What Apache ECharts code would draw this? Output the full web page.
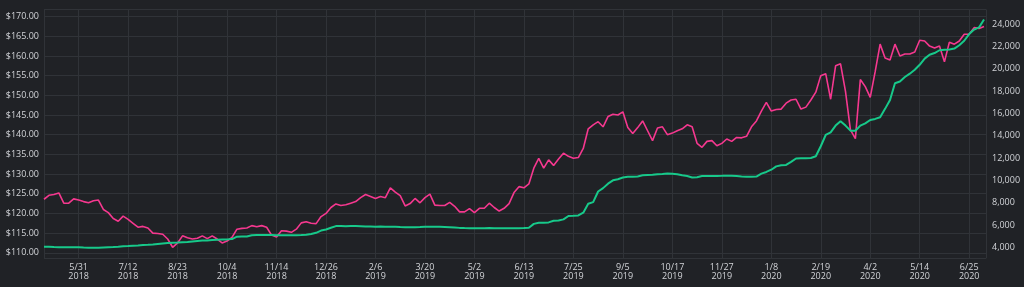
<!DOCTYPE html>
<html>
<head>
<meta charset="utf-8">
<script src="https://cdn.jsdelivr.net/npm/echarts@6/dist/echarts.min.js"></script>
<style>
html,body{margin:0;padding:0;background:#202226;}
#chart{width:1024px;height:287px;}
</style>
</head>
<body>
<div id="chart"></div>
<script>
// x tick labels, one every 10 sample slots (slot 0 = 5/31/2018)
const tickLabels = ['5/31\n2018','7/12\n2018','8/23\n2018','10/4\n2018','11/14\n2018','12/26\n2018',
  '2/6\n2019','3/20\n2019','5/2\n2019','6/13\n2019','7/25\n2019','9/5\n2019','10/17\n2019','11/27\n2019',
  '1/8\n2020','2/19\n2020','4/2\n2020','5/14\n2020','6/25\n2020'];
const slotStart = -7;      // first sample slot
const slotsPerTick = 10;

// price (left axis, $)
const price = [
  123.6,124.6,124.8,125.2,122.6,122.6,123.7,123.4,123.0,122.7,
  123.2,123.4,121.0,120.2,118.7,118.0,119.3,118.5,117.5,116.5,
  116.7,116.3,115.0,114.9,114.7,113.5,111.4,112.5,114.3,113.8,
  113.5,113.7,114.3,113.6,114.3,113.5,112.5,113.0,113.9,116.0,
  116.2,116.3,116.9,116.6,116.9,116.5,114.5,114.0,115.6,115.5,
  115.2,116.0,117.6,117.9,117.5,117.4,119.2,120.0,121.5,122.4,
  122.0,122.2,122.6,123.0,124.0,124.8,124.3,123.8,124.3,124.0,
  126.5,125.4,124.5,121.9,122.5,123.8,122.7,124.0,124.9,122.1,
  122.0,122.0,122.8,121.8,120.4,120.4,121.2,120.2,121.3,121.3,
  122.6,121.5,120.6,121.3,122.5,125.3,126.8,126.5,127.5,131.5,
  134.0,131.5,133.6,132.2,133.8,135.3,134.5,134.0,134.2,136.5,
  141.5,142.5,143.3,142.0,144.6,145.2,145.0,145.8,141.8,140.3,
  141.8,143.5,141.0,138.5,141.7,142.0,140.0,140.4,141.0,141.5,
  142.5,142.0,137.8,136.8,138.3,138.5,137.2,137.8,138.9,138.3,
  139.3,139.2,139.6,142.0,143.5,146.0,148.2,146.0,146.4,146.5,
  148.0,148.8,149.0,146.5,147.0,148.8,150.8,155.0,155.5,149.0,
  157.5,158.0,151.0,141.2,139.0,154.0,152.2,149.5,156.0,163.0,
  159.5,159.0,163.0,160.0,160.5,160.5,161.0,164.0,163.8,162.5,
  162.0,162.5,158.5,163.5,163.0,163.8,165.5,165.5,167.2,167.0,
  167.5
];

// holdings value (right axis)
const holdings = [
  4050,4050,4020,4000,4000,4000,4000,4000,3980,3970,
  3960,3960,3980,4000,4020,4050,4100,4120,4150,4170,
  4200,4220,4250,4300,4350,4380,4400,4420,4450,4480,
  4520,4560,4600,4620,4650,4670,4690,4710,4740,4950,
  4960,4970,5080,5100,5100,5110,5100,5080,5080,5090,
  5080,5080,5100,5130,5200,5300,5500,5600,5750,5900,
  5900,5880,5900,5900,5890,5870,5860,5850,5860,5850,
  5840,5830,5810,5800,5800,5800,5810,5840,5850,5850,
  5840,5820,5800,5770,5740,5720,5710,5700,5700,5710,
  5720,5700,5700,5700,5710,5700,5710,5720,5750,6100,
  6200,6210,6230,6380,6400,6500,6800,6820,6850,7100,
  7900,8050,9000,9300,9700,10000,10100,10250,10320,10330,
  10350,10450,10480,10500,10550,10560,10600,10580,10550,10450,
  10380,10250,10280,10380,10380,10380,10390,10400,10420,10400,
  10380,10350,10330,10330,10340,10600,10750,10950,11250,11350,
  11380,11650,11950,11970,11980,12000,12150,13050,14060,14300,
  14900,15300,14900,14450,14440,14900,15100,15400,15500,15650,
  16400,17200,18700,18850,19250,19550,19900,20350,20900,21250,
  21400,21650,21700,21720,21800,22100,22500,23100,23500,23700,
  24400
];

const priceData = price.map((v, k) => [slotStart + k, v]);
const holdData = holdings.map((v, k) => [slotStart + k, v]);

const textColor = '#d2d4d8';
const gridColor = '#303338';
const font = 'Open Sans';

const chart = echarts.init(document.getElementById('chart'), null, {renderer: 'canvas'});
chart.setOption({
  backgroundColor: '#202226',
  animation: false,
  grid: {left: 44, right: 38, top: 9.5, bottom: 28.7, containLabel: false},
  xAxis: {
    type: 'value',
    min: -7,
    max: 183.4,
    splitNumber: 19,
    axisLine: {show: false},
    axisTick: {show: false},
    axisLabel: {
      showMinLabel: false, showMaxLabel: false,
      color: textColor, fontSize: 9, fontFamily: font, lineHeight: 9.5, margin: 4,
      formatter: function (v) {
        const k = Math.round(v / slotsPerTick);
        if (Math.abs(v - k * slotsPerTick) > 1e-6 || k < 0 || k >= tickLabels.length) return '';
        return tickLabels[k];
      }
    },
    splitLine: {show: true, lineStyle: {color: gridColor, width: 1}}
  },
  yAxis: [
    {
      type: 'value', position: 'left',
      min: 108.6, max: 171.8, splitNumber: 12,
      axisLine: {show: false}, axisTick: {show: false},
      axisLabel: {
        showMinLabel: false, showMaxLabel: false,
        color: textColor, fontSize: 9, fontFamily: font, margin: 5,
        formatter: v => '$' + v.toFixed(2)
      },
      splitLine: {show: true, lineStyle: {color: gridColor, width: 1}}
    },
    {
      type: 'value', position: 'right',
      min: 3015, max: 25300, splitNumber: 11,
      axisLine: {show: false}, axisTick: {show: false},
      axisLabel: {
        showMinLabel: false, showMaxLabel: false,
        color: textColor, fontSize: 9, fontFamily: font, margin: 6,
        formatter: v => v.toLocaleString('en-US')
      },
      splitLine: {show: false}
    }
  ],
  series: [
    {
      name: 'Price', type: 'line', yAxisIndex: 0, data: priceData,
      showSymbol: false, symbol: 'none',
      lineStyle: {color: '#f5388f', width: 1.6}, z: 2
    },
    {
      name: 'Holdings', type: 'line', yAxisIndex: 1, data: holdData,
      showSymbol: false, symbol: 'none',
      lineStyle: {color: '#17c98a', width: 2}, z: 3
    }
  ]
});
</script>
</body>
</html>
